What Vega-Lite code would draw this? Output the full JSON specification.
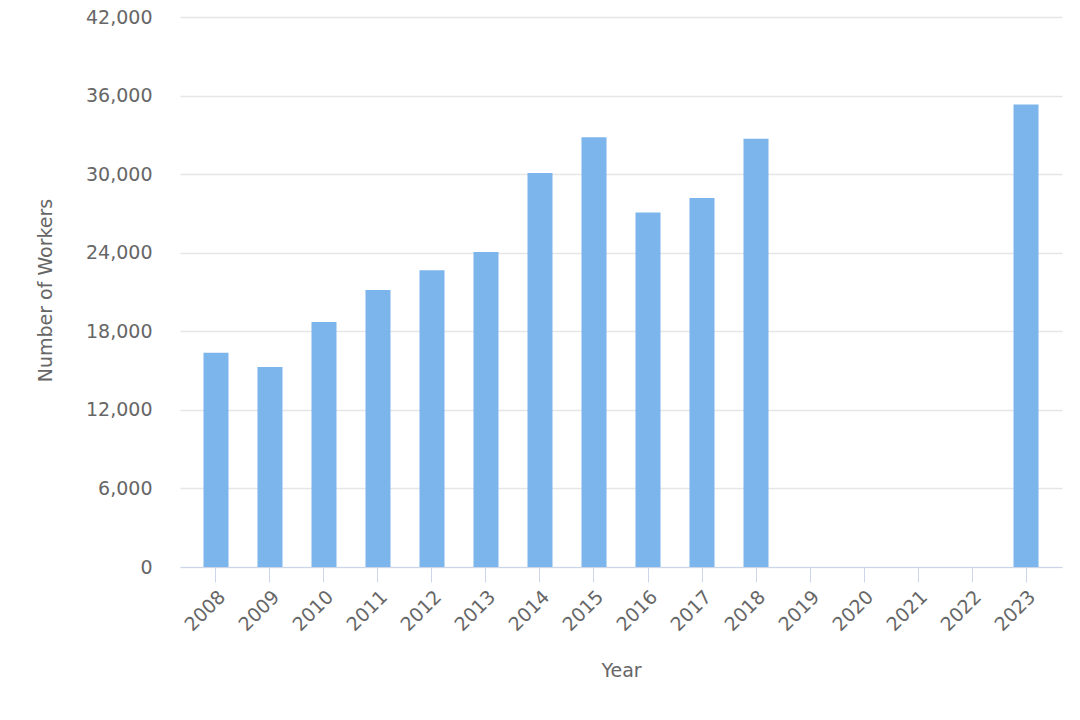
{
  "$schema": "https://vega.github.io/schema/vega-lite/v6.json",
  "autosize": "none",
  "width": 882,
  "height": 550,
  "padding": {"left": 180, "top": 17, "right": 18, "bottom": 153},
  "background": "#ffffff",
  "config": {"view": {"stroke": null}, "font": "DejaVu Sans"},
  "data": {
    "values": [
      {"Year": "2008", "Workers": 16360},
      {"Year": "2009", "Workers": 15270},
      {"Year": "2010", "Workers": 18700},
      {"Year": "2011", "Workers": 21150},
      {"Year": "2012", "Workers": 22670},
      {"Year": "2013", "Workers": 24050},
      {"Year": "2014", "Workers": 30080},
      {"Year": "2015", "Workers": 32820},
      {"Year": "2016", "Workers": 27080},
      {"Year": "2017", "Workers": 28170},
      {"Year": "2018", "Workers": 32700},
      {"Year": "2023", "Workers": 35320}
    ]
  },
  "mark": {"type": "bar", "color": "#7cb5ec"},
  "encoding": {
    "x": {
      "field": "Year",
      "type": "ordinal",
      "scale": {
        "domain": ["2008","2009","2010","2011","2012","2013","2014","2015","2016","2017","2018","2019","2020","2021","2022","2023"],
        "paddingInner": 0.537,
        "paddingOuter": 0.435
      },
      "axis": {
        "title": "Year",
        "titleFont": "DejaVu Sans",
        "titleFontSize": 19,
        "titleFontWeight": "normal",
        "titleColor": "#666666",
        "titleY": 94,
        "titleBaseline": "top",
        "labelAngle": -45,
        "labelAlign": "right",
        "labelBaseline": "top",
        "labelFont": "DejaVu Sans",
        "labelFontSize": 19,
        "labelColor": "#666666",
        "labelPadding": 5,
        "domainColor": "#ccd6eb",
        "tickColor": "#ccd6eb",
        "tickSize": 15,
        "grid": false
      }
    },
    "y": {
      "field": "Workers",
      "type": "quantitative",
      "scale": {"domain": [0, 42000], "nice": false},
      "axis": {
        "title": "Number of Workers",
        "titleFont": "DejaVu Sans",
        "titleFontSize": 19,
        "titleFontWeight": "normal",
        "titleColor": "#666666",
        "titleX": -135,
        "titleY": 273,
        "titleAlign": "center",
        "titleBaseline": "middle",
        "titleAngle": -90,
        "values": [0, 6000, 12000, 18000, 24000, 30000, 36000, 42000],
        "format": ",d",
        "labelFont": "DejaVu Sans",
        "labelFontSize": 19,
        "labelColor": "#666666",
        "labelPadding": 28,
        "domain": false,
        "ticks": false,
        "grid": true,
        "gridColor": "#e6e6e6",
        "gridWidth": 1.5
      }
    }
  }
}
